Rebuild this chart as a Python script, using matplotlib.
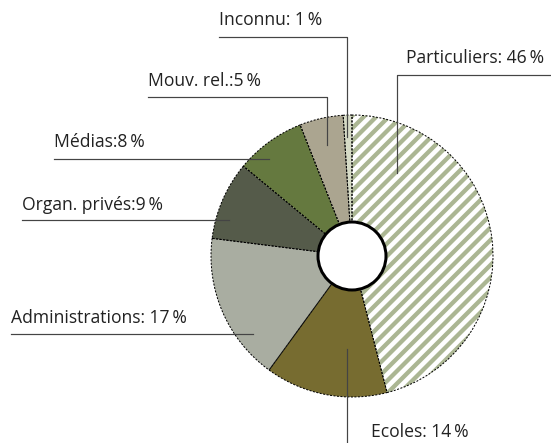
import matplotlib
matplotlib.use("Agg")
import matplotlib.pyplot as plt
from matplotlib.patches import Circle
import numpy as np

plt.rcParams['font.family'] = ['Open Sans', 'DejaVu Sans']

W, H = 551, 443

categories = ['Particuliers', 'Ecoles', 'Administrations', 'Organ. privés',
              'Médias', 'Mouv. rel.', 'Inconnu']
values = [46, 14, 17, 9, 8, 5, 1]
labels = ['Particuliers: 46\u2009%', 'Ecoles: 14\u2009%', 'Administrations: 17\u2009%',
          'Organ. privés:9\u2009%', 'Médias:8\u2009%', 'Mouv. rel.:5\u2009%',
          'Inconnu: 1\u2009%']
colors = ['white', '#776c30', '#a9ada1', '#555b4a', '#65793f', '#aba590', '#d6dbc6']
stripe = '#abb693'

# label layout in pixel coords (y from top): text x, text baseline, leader polyline
label_pos = {
    'Particuliers': (406, 63, [(551, 75), (397, 75), (397, 173)]),
    'Ecoles': (371, 437, [(347, 443), (347, 349)]),
    'Administrations': (11, 323, [(11, 334), (253, 334)]),
    'Organ. privés': (22, 210, [(22, 220), (229, 220)]),
    'Médias': (54, 147, [(54, 159), (269, 159)]),
    'Mouv. rel.': (148, 86, [(148, 97), (327, 97), (327, 145)]),
    'Inconnu': (219, 25, [(219, 37), (347, 37), (347, 137)]),
}

cx, cy, r = 352, 256, 141

fig = plt.figure(figsize=(W / 72, H / 72), dpi=72)
ax = fig.add_axes([0, 0, 1, 1])

center = (cx, H - cy)
wedges, _ = ax.pie(values, colors=colors, startangle=90, counterclock=False,
                   center=center, radius=r, frame=True,
                   wedgeprops=dict(linewidth=0))

# diagonal stripes inside the first wedge
for c in np.arange(-800, 800, 12.5):
    ln, = ax.plot([0, W], [c, c + W], color=stripe, linewidth=4.3,
                  solid_capstyle='butt', zorder=wedges[0].get_zorder() + 0.1)
    ln.set_clip_path(wedges[0])

# dashed outlines on top
ax.pie(values, startangle=90, counterclock=False, center=center, radius=r,
       frame=True,
       wedgeprops=dict(fill=False, edgecolor='black', linewidth=1,
                       linestyle=(0, (2, 1.5)), zorder=3))

ax.add_patch(Circle(center, 34, facecolor='white', edgecolor='black',
                    linewidth=3, zorder=5))

ax.set_xlim(0, W)
ax.set_ylim(0, H)
ax.set_aspect('equal')
ax.axis('off')

for cat, lab in zip(categories, labels):
    tx, ty, pts = label_pos[cat]
    ax.text(tx, H - ty, lab, fontsize=17.5, color='#222222', ha='left',
            va='baseline')
    xs = [p[0] for p in pts]
    ys = [H - p[1] for p in pts]
    ax.plot(xs, ys, color='#444444', linewidth=1.2, zorder=6)

fig.savefig('out.png', dpi=72)
